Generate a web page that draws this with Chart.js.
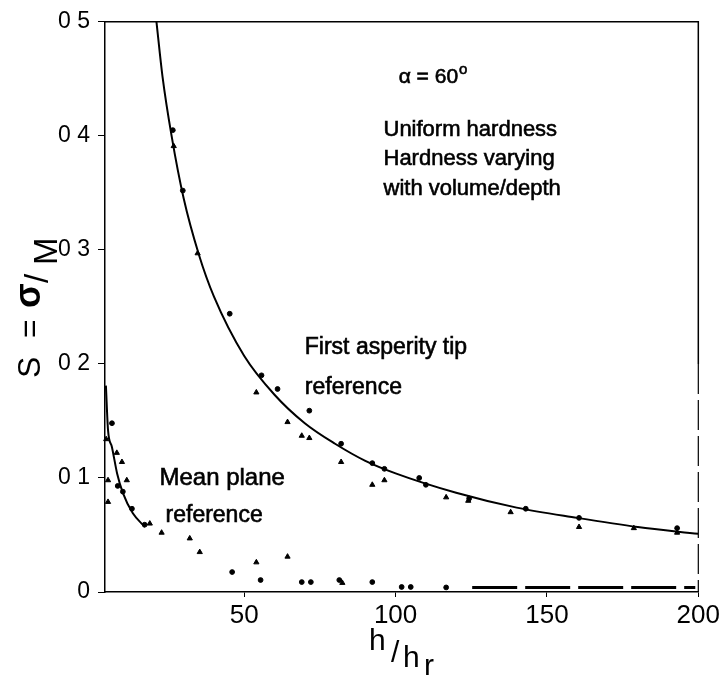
<!DOCTYPE html>
<html lang="en">
<head>
    <meta charset="UTF-8">
    <title>S against h/hr, alpha = 60</title>
    <script src="https://cdn.jsdelivr.net/npm/chart.js"></script>
    <style>
        html, body { margin: 0; padding: 0; background: #fff; }
        #wrap { width: 723px; height: 675px; }
    </style>
</head>
<body>
    <div id="wrap"><canvas id="sigmaChart"></canvas></div>

    <script>
        // axis ticks
        const xTicks = [50, 100, 150, 200];
        const yTicks = [0, 0.1, 0.2, 0.3, 0.4, 0.5];
        const yTickLabels = ['0', '0 1', '0 2', '0 3', '0 4', '0 5'];

        // fitted curve, first asperity tip reference
        const hTip = [21, 23, 26, 30, 35, 40, 50, 60, 70, 80, 90, 100, 120, 140, 160, 180, 200];
        const sTip = [0.500, 0.452, 0.400, 0.345, 0.296, 0.259, 0.207, 0.173, 0.148, 0.130, 0.115, 0.104, 0.087, 0.074, 0.065, 0.057, 0.051];

        // fitted curve, mean plane reference
        const hMean = [4.3, 5.0, 6.3, 8.0, 9.9, 13.2, 17.2];
        const sMean = [0.181, 0.142, 0.127, 0.104, 0.087, 0.069, 0.057];

        // measured points, first asperity tip reference
        const hTipUniform = [26.4, 29.7, 45.2, 55.7, 61, 71.5, 82, 92.3, 96.3, 107.8, 110, 124.3, 143, 160.6, 193];
        const sTipUniform = [0.405, 0.352, 0.244, 0.190, 0.178, 0.159, 0.130, 0.113, 0.108, 0.100, 0.094, 0.082, 0.073, 0.065, 0.056];
        const hTipVarying = [26.7, 34.6, 54, 64.3, 69, 71.5, 82, 92.3, 96.3, 116.7, 124, 138, 160.6, 178.7, 193];
        const sTipVarying = [0.391, 0.297, 0.175, 0.149, 0.137, 0.135, 0.114, 0.094, 0.098, 0.083, 0.080, 0.070, 0.057, 0.056, 0.052];

        // measured points, mean plane reference
        const hMeanUniform = [6.3, 8.2, 9.9, 12.9, 17.1, 46, 55.4, 69, 72, 81.4, 92.3, 102, 105, 116.7];
        const sMeanUniform = [0.148, 0.093, 0.088, 0.073, 0.059, 0.0175, 0.0105, 0.0087, 0.0087, 0.0105, 0.0087, 0.0044, 0.0044, 0.004];
        const hMeanVarying = [4.4, 5.0, 5.0, 7.9, 9.6, 11.2, 18.8, 22.7, 32, 35.3, 54, 64.3, 82.4];
        const sMeanVarying = [0.134, 0.098, 0.079, 0.122, 0.114, 0.098, 0.060, 0.052, 0.047, 0.035, 0.026, 0.031, 0.008];

        // packed points along the axis at large h
        const hTail = [125.3, 199];
        const sTail = [0.004, 0.004];

        const FONT = "'Liberation Sans', Arial, sans-serif";

        function pts(xs, ys) {
            return xs.map((x, i) => ({ x: x, y: ys[i] }));
        }

        // fill plus a thin outline so the lettering reads a little heavier
        function heavyText(ctx, txt, x, y) {
            ctx.fillText(txt, x, y);
            ctx.strokeText(txt, x, y);
        }

        // frame (top/right) plus the axis titles and in-plot notes
        const decorations = {
            id: 'decorations',
            afterDraw(chart) {
                const ctx = chart.ctx;
                const a = chart.chartArea;
                const xs = chart.scales.x, ys = chart.scales.y;
                ctx.save();
                ctx.strokeStyle = '#000';
                ctx.lineWidth = 1.5;
                ctx.beginPath();
                ctx.moveTo(a.left, a.top);
                ctx.lineTo(a.right, a.top);
                ctx.lineTo(a.right, ys.getPixelForValue(0.2));
                ctx.stroke();
                ctx.setLineDash([30, 6]);
                ctx.lineWidth = 1.2;
                ctx.beginPath();
                ctx.moveTo(a.right, ys.getPixelForValue(0.2));
                ctx.lineTo(a.right, a.bottom);
                ctx.stroke();
                ctx.setLineDash([]);

                ctx.fillStyle = '#000';
                ctx.lineWidth = 0.6;
                ctx.textAlign = 'left';
                ctx.textBaseline = 'alphabetic';

                // notes placed in data units
                const note = (txt, h, s, size) => {
                    ctx.font = size + 'px ' + FONT;
                    heavyText(ctx, txt, xs.getPixelForValue(h), ys.getPixelForValue(s));
                };
                note('\u03b1 = 60', 101, 0.446, 21);
                const degX = xs.getPixelForValue(101) + ctx.measureText('\u03b1 = 60').width + 1;
                ctx.font = '15px ' + FONT;
                heavyText(ctx, 'o', degX, ys.getPixelForValue(0.446) - 9);
                note('Uniform hardness', 96, 0.400, 22);
                note('Hardness varying', 96, 0.374, 22);
                note('with volume/depth', 96, 0.348, 22);
                note('First asperity tip', 70, 0.209, 23);
                note('reference', 70, 0.174, 23);
                note('Mean plane', 22, 0.094, 24);
                note('reference', 24, 0.061, 23);

                // y axis title, S = sigma/M, reading upwards
                ctx.save();
                ctx.translate(40, 378);
                ctx.rotate(-Math.PI / 2);
                ctx.font = '32px ' + FONT;
                ctx.fillText('S', 0, 0);
                ctx.fillText('=', 40, 0);
                ctx.font = 'bold 36px ' + FONT;
                ctx.fillText('\u03c3', 70, 0);
                ctx.font = '33px ' + FONT;
                ctx.fillText('/', 95, 8);
                ctx.fillText('M', 113, 17);
                ctx.restore();

                // x axis title, h/hr
                ctx.font = '30px ' + FONT;
                ctx.fillText('h', 369, 650);
                ctx.fillText('/', 391, 662);
                ctx.fillText('h', 403, 667);
                ctx.fillText('r', 424, 675);
                ctx.restore();
            }
        };

        const ctx = document.getElementById('sigmaChart').getContext('2d');
        new Chart(ctx, {
            type: 'scatter',
            data: {
                datasets: [
                    {
                        label: 'First asperity tip reference',
                        type: 'line',
                        data: pts(hTip, sTip),
                        borderColor: '#000',
                        borderWidth: 2,
                        pointRadius: 0,
                        cubicInterpolationMode: 'monotone',
                        fill: false
                    },
                    {
                        label: 'Mean plane reference',
                        type: 'line',
                        data: pts(hMean, sMean),
                        borderColor: '#000',
                        borderWidth: 2,
                        pointRadius: 0,
                        cubicInterpolationMode: 'monotone',
                        fill: false
                    },
                    {
                        label: 'Mean plane, large h',
                        type: 'line',
                        data: pts(hTail, sTail),
                        borderColor: '#000',
                        borderWidth: 3,
                        borderDash: [45, 8],
                        pointRadius: 0,
                        fill: false
                    },
                    {
                        label: 'Uniform hardness',
                        data: pts(hTipUniform, sTipUniform).concat(pts(hMeanUniform, sMeanUniform)),
                        pointStyle: 'circle',
                        pointRadius: 2.4,
                        backgroundColor: '#000',
                        borderColor: '#000',
                        clip: false
                    },
                    {
                        label: 'Hardness varying with volume/depth',
                        data: pts(hTipVarying, sTipVarying).concat(pts(hMeanVarying, sMeanVarying)),
                        pointStyle: 'triangle',
                        pointRadius: 3,
                        backgroundColor: '#000',
                        borderColor: '#000',
                        clip: false
                    }
                ]
            },
            options: {
                responsive: true,
                maintainAspectRatio: false,
                animation: false,
                layout: { padding: { top: 20, right: 23, left: 0, bottom: 0 } },
                plugins: {
                    legend: { display: false },
                    tooltip: { enabled: false }
                },
                scales: {
                    x: {
                        type: 'linear',
                        min: 4,
                        max: 200,
                        afterBuildTicks(scale) { scale.ticks = xTicks.map(v => ({ value: v })); },
                        afterFit(scale) { scale.height = 83; },
                        border: { display: true, color: '#000', width: 1.5 },
                        grid: { drawOnChartArea: false, drawTicks: true, tickLength: 5, color: '#000', lineWidth: 1 },
                        ticks: { color: '#000', padding: 3, maxRotation: 0, font: { family: FONT, size: 26 } }
                    },
                    y: {
                        type: 'linear',
                        min: 0,
                        max: 0.5,
                        afterBuildTicks(scale) { scale.ticks = yTicks.map(v => ({ value: v })); },
                        afterFit(scale) { scale.width = 105; },
                        border: { display: true, color: '#000', width: 1.5 },
                        grid: { drawOnChartArea: false, drawTicks: true, tickLength: 7, color: '#000', lineWidth: 1 },
                        ticks: {
                            color: '#000',
                            padding: 8,
                            font: { family: FONT, size: 23 },
                            callback: (v) => yTickLabels[yTicks.indexOf(v)]
                        }
                    }
                }
            },
            plugins: [decorations]
        });
    </script>
</body>
</html>
